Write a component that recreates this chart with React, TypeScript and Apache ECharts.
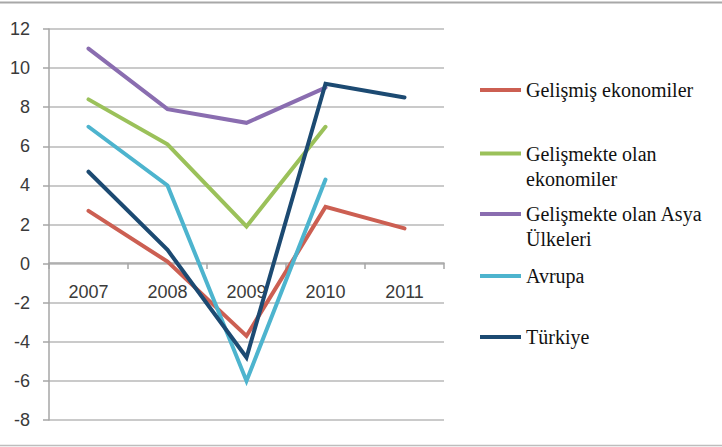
import React, { useEffect, useRef } from "react";
import * as echarts from "echarts";

const years = ["2007", "2008", "2009", "2010", "2011"];
const gelismis = [2.7, 0.1, -3.7, 2.9, 1.8];
const gelismekte = [8.4, 6.1, 1.9, 7.0, null];
const asya = [11.0, 7.9, 7.2, 9.0, null];
const avrupa = [7.0, 4.0, -6.0, 4.3, null];
const turkiye = [4.7, 0.7, -4.8, 9.2, 8.5];

const seriesNames = [
  "Gelişmiş ekonomiler",
  "Gelişmekte olan ekonomiler",
  "Gelişmekte olan Asya Ülkeleri",
  "Avrupa",
  "Türkiye",
];
const legendLabels = [
  "Gelişmiş ekonomiler",
  "Gelişmekte olan\nekonomiler",
  "Gelişmekte olan Asya\nÜlkeleri",
  "Avrupa",
  "Türkiye",
];
const colors = ["#CC5F52", "#9BC15A", "#8A6DB0", "#4DB4CE", "#1C4A72"];
const seriesData = [gelismis, gelismekte, asya, avrupa, turkiye];

const legendIconY = [90, 153.5, 214, 276, 337];
const LH = 25;

export default function App() {
  const ref = useRef<HTMLDivElement>(null);
  useEffect(() => {
    if (!ref.current) return;
    const chart = echarts.init(ref.current, null, { renderer: "svg" });
    const legends = seriesNames.map((name, i) => {
      const twoLine = legendLabels[i].includes("\n");
      return {
        data: [name],
        orient: "vertical",
        left: 480,
        top: twoLine ? legendIconY[i] - 1.5 * LH : legendIconY[i] - LH / 2,
        padding: 0,
        icon: "rect",
        itemWidth: 41,
        itemHeight: 4,
        selectedMode: false,
        formatter: () => (twoLine ? "\n" + legendLabels[i] : legendLabels[i]),
        textStyle: {
          fontFamily: "Liberation Serif",
          fontSize: 20,
          color: "#111111",
          lineHeight: LH,
        },
      };
    });
    chart.setOption({
      animation: false,
      backgroundColor: "#ffffff",
      color: colors,
      grid: {
        left: 49,
        right: 278,
        top: 29,
        bottom: 27,
        containLabel: false,
        outerBoundsMode: "none",
      },
      legend: legends,
      xAxis: {
        type: "category",
        data: years,
        boundaryGap: true,
        offset: -157,
        axisLine: { onZero: false, lineStyle: { color: "#a6a6a6", width: 1.5 } },
        axisTick: { show: true, length: 6, lineStyle: { color: "#a6a6a6", width: 1.5 } },
        axisLabel: {
          margin: 20,
          fontFamily: "Liberation Sans",
          fontSize: 18,
          color: "#3a3a3a",
        },
        splitLine: { show: false },
      },
      yAxis: {
        type: "value",
        min: -8,
        max: 12,
        interval: 2,
        axisLine: { show: true, lineStyle: { color: "#a6a6a6", width: 1.5 } },
        axisTick: { show: true, length: 6, lineStyle: { color: "#a6a6a6", width: 1.5 } },
        axisLabel: {
          margin: 19,
          fontFamily: "Liberation Sans",
          fontSize: 18,
          color: "#3a3a3a",
        },
        splitLine: { show: true, lineStyle: { color: "#b8b8b8", width: 1.5 } },
      },
      graphic: [
        {
          type: "line",
          shape: { x1: 0, y1: 2.5, x2: 722, y2: 2.5 },
          style: { stroke: "#a8a8a8", lineWidth: 2 },
        },
        {
          type: "line",
          shape: { x1: 0, y1: 445.5, x2: 722, y2: 445.5 },
          style: { stroke: "#bdbdbd", lineWidth: 1.5 },
        },
      ],
      series: seriesNames.map((name, i) => ({
        name,
        type: "line",
        data: seriesData[i],
        symbol: "none",
        connectNulls: false,
        lineStyle: { width: 4, color: colors[i], cap: "round", join: "miter" },
        itemStyle: { color: colors[i] },
      })),
    });
    return () => chart.dispose();
  }, []);
  return (
    <div
      ref={ref}
      style={{ position: "fixed", left: 0, top: 0, width: 722, height: 447 }}
    />
  );
}
